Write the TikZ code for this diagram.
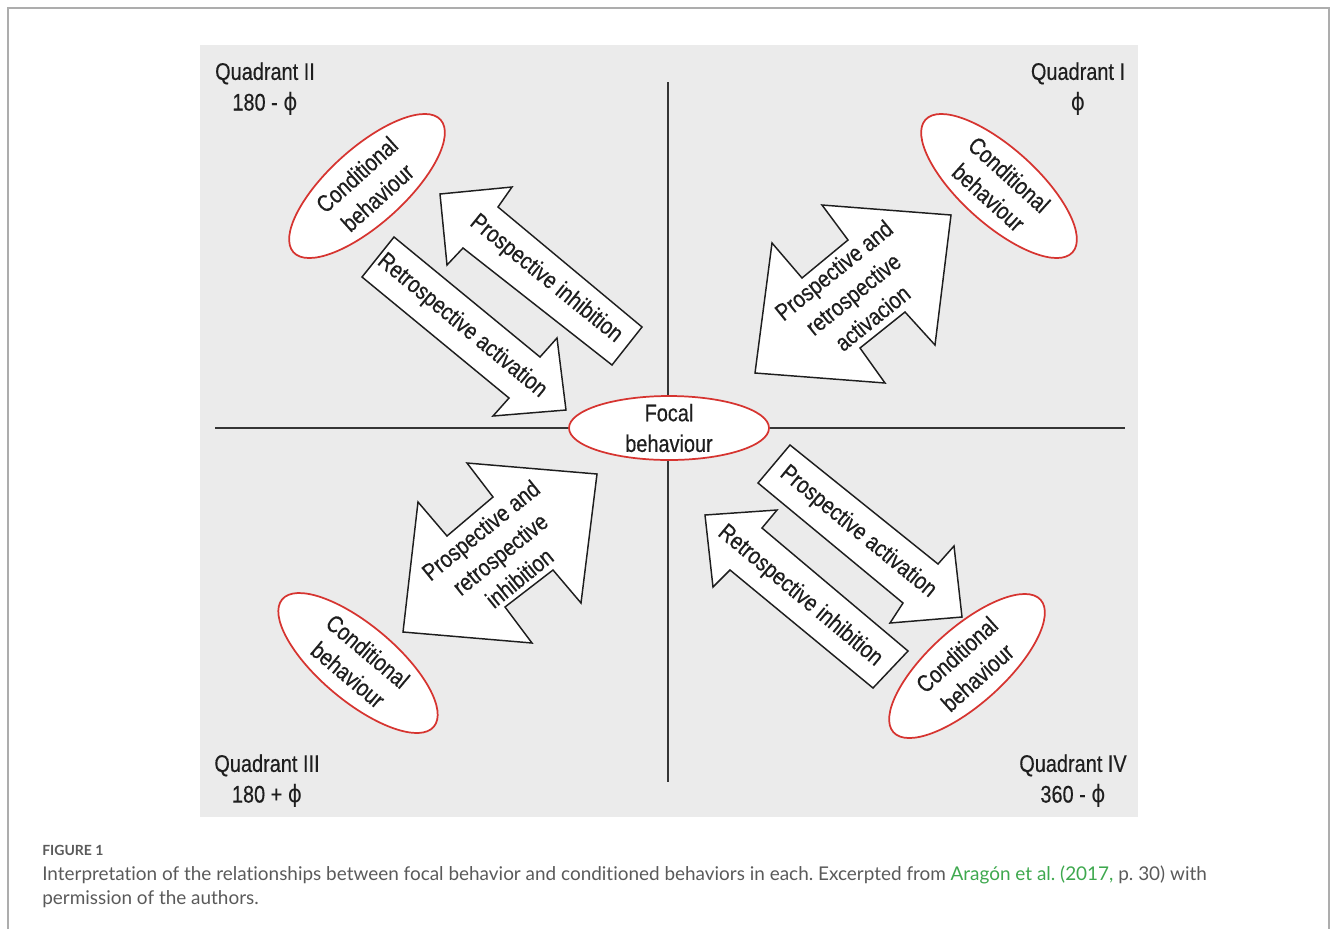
\documentclass[tikz,border=0pt]{standalone}
\usepackage{fontspec}
\usetikzlibrary{shapes.geometric}
\usetikzlibrary{calc}

\newfontfamily\condfont{Liberation Sans}[FakeStretch=0.83, FakeBold=0.35]
\newfontfamily\phifont{DejaVu Sans}[FakeStretch=0.9]
\newfontfamily\capfont{Lato}[Ligatures=NoCommon]
\newcommand{\ph}{{\phifont ϕ}}
\frenchspacing

\definecolor{panelgrey}{RGB}{235,235,235}
\definecolor{ovalred}{RGB}{214,52,48}
\definecolor{inkgrey}{RGB}{30,30,30}
\definecolor{linkgreen}{RGB}{62,168,78}
\definecolor{capgrey}{RGB}{90,90,90}

\tikzset{
  lbl/.style={font=\condfont\fontsize{18}{23}\selectfont, text=inkgrey, align=center, inner sep=0pt},
  oval/.style={lbl, ellipse, draw=ovalred, line width=1.3pt, fill=white, inner xsep=0pt, inner ysep=-6pt},
  condoval/.style={oval, minimum width=148.5pt, minimum height=57pt},
  blockarrow/.style={draw=inkgrey, line width=1.1pt, fill=white, line join=miter},
  axisline/.style={draw=inkgrey!90, line width=1.1pt}
}

\begin{document}
\begin{tikzpicture}[x=0.75pt, y=-0.75pt]

  \useasboundingbox (0,0) rectangle (1333,929);
  \draw [black!32, line width=0.8pt] (8,929) -- (8,8) -- (1329,8) -- (1329,929);
  \fill [panelgrey] (200,45) rectangle (1138,817);

  % axes
  \coordinate (north) at (668,82);
  \coordinate (south) at (668,782);
  \coordinate (west) at (215,428);
  \coordinate (east) at (1125,428);
  \draw [axisline] (north) -- (south);
  \draw [axisline] (west) -- (east);

  \node (q1) [lbl] at (1078,89) {Quadrant I\\\ph};
  \node (q2) [lbl] at (265,89) {Quadrant II\\180 - \ph};
  \node (q3) [lbl] at (267,781) {Quadrant III\\180 + \ph};
  \node (q4) [lbl] at (1073,781) {Quadrant IV\\360 - \ph};

  % quadrant II
  \draw [blockarrow] (440,194) -- (512,187) -- (498,207) -- (642,327) -- (612,365)
    -- (463,248) -- (447,265) -- cycle;
  \draw [blockarrow] (394,237) -- (540,357) -- (557,338) -- (566,410) -- (493,416)
    -- (509,398) -- (362,277) -- cycle;
  \node (proinh) [lbl, rotate=-39] at (546,279) {Prospective inhibition};
  \node (retact) [lbl, rotate=-39.5] at (462,326) {Retrospective activation};

  % quadrant I
  \draw [blockarrow] (951,215) -- (822,205) -- (848,240) -- (802,278) -- (772,243)
    -- (755,373) -- (885,383) -- (860,348) -- (905,312) -- (935,345) -- cycle;
  \node (bothact) [lbl, rotate=39] at (853,294) {Prospective and\\retrospective\\activacion};

  % quadrant III
  \draw [blockarrow] (597,474) -- (467,463) -- (493,497) -- (447,536) -- (418,502)
    -- (403,632) -- (532,643) -- (505,607) -- (553,570) -- (581,603) -- cycle;
  \node (bothinh) [lbl, rotate=39] at (500,554) {Prospective and\\retrospective\\inhibition};

  % quadrant IV
  \draw [blockarrow] (790,445) -- (938,564) -- (954,546) -- (962,617) -- (890,623)
    -- (903,603) -- (758,483) -- cycle;
  \draw [blockarrow] (705,515) -- (777,510) -- (762,528) -- (908,651) -- (873,688)
    -- (730,570) -- (713,587) -- cycle;
  \node (proact) [lbl, rotate=-39.2] at (858,532) {Prospective activation};
  \node (retinh) [lbl, rotate=-39.8] at (800,596) {Retrospective inhibition};

  \node (focal) [oval, minimum width=150pt, minimum height=48pt] at (669,428) {Focal\\behaviour};

  \node (cond1) [condoval, rotate=-42] at (999,186) {Conditional\\behaviour};
  \node (cond2) [condoval, rotate=42] at (367,186) {Conditional\\behaviour};
  \node (cond3) [condoval, rotate=-40] at (358,663) {Conditional\\behaviour};
  \node (cond4) [condoval, rotate=42] at (967,666) {Conditional\\behaviour};

  \node (figlabel) [anchor=west, inner sep=0pt, text=capgrey,
    font=\capfont\bfseries\fontsize{10.5}{12}\selectfont] at (42,850) {FIGURE 1};
  \node (caption) [anchor=north west, align=left, inner sep=0pt, text=capgrey,
    font=\capfont\fontsize{14.2}{18}\selectfont] at (42,866)
    {Interpretation of the relationships between focal behavior and conditioned behaviors in each. Excerpted from \textcolor{linkgreen}{Aragón et al. (2017,} p. 30) with\\
     permission of the authors.};

\end{tikzpicture}
\end{document}
